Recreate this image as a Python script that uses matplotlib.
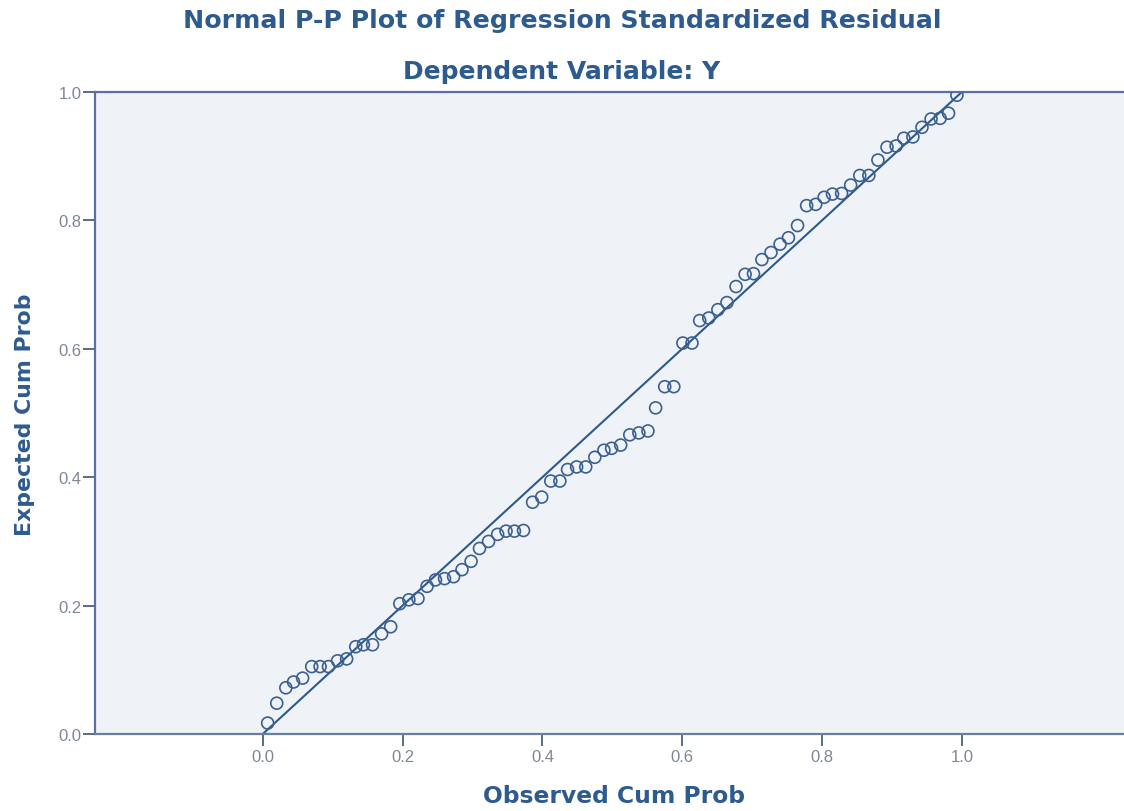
import matplotlib
matplotlib.use("Agg")
import matplotlib.pyplot as plt

observed_cum_prob = [
    0.007, 0.020, 0.033, 0.044, 0.057, 0.070, 0.082, 0.094, 0.107, 0.120,
    0.133, 0.144, 0.157, 0.170, 0.183, 0.196, 0.209, 0.222, 0.235, 0.247,
    0.260, 0.273, 0.285, 0.298, 0.310, 0.323, 0.336, 0.348, 0.360, 0.373,
    0.386, 0.399, 0.412, 0.425, 0.436, 0.449, 0.462, 0.475, 0.488, 0.499,
    0.512, 0.525, 0.538, 0.551, 0.562, 0.575, 0.588, 0.601, 0.614, 0.625,
    0.638, 0.651, 0.664, 0.677, 0.690, 0.702, 0.714, 0.727, 0.740, 0.752,
    0.765, 0.778, 0.791, 0.803, 0.815, 0.828, 0.841, 0.854, 0.867, 0.880,
    0.893, 0.906, 0.917, 0.930, 0.943, 0.956, 0.969, 0.981, 0.993,
]
expected_cum_prob = [
    0.017, 0.048, 0.072, 0.081, 0.087, 0.105, 0.105, 0.105, 0.114, 0.117,
    0.136, 0.139, 0.139, 0.156, 0.167, 0.203, 0.209, 0.211, 0.230, 0.240,
    0.242, 0.245, 0.256, 0.269, 0.289, 0.300, 0.311, 0.316, 0.316, 0.317,
    0.361, 0.369, 0.394, 0.394, 0.412, 0.416, 0.416, 0.431, 0.442, 0.445,
    0.450, 0.466, 0.469, 0.472, 0.508, 0.541, 0.541, 0.609, 0.609, 0.644,
    0.648, 0.661, 0.672, 0.697, 0.716, 0.717, 0.739, 0.750, 0.763, 0.773,
    0.792, 0.823, 0.825, 0.836, 0.841, 0.842, 0.855, 0.870, 0.870, 0.894,
    0.914, 0.916, 0.928, 0.930, 0.945, 0.958, 0.959, 0.967, 0.995,
]
reference_line = [0.0, 1.0]
tick_values = [0.0, 0.2, 0.4, 0.6, 0.8, 1.0]
tick_labels = ["0.0", "0.2", "0.4", "0.6", "0.8", "1.0"]

title_color = "#2e5b8e"
tick_color = "#7f8793"
spine_color = "#5b6fa8"
bg_color = "#eff3f8"

plt.rcParams["font.family"] = ["Liberation Sans", "DejaVu Sans"]
bold_family = ["DejaVu Sans"]

fig = plt.figure(figsize=(11.24, 8.12), dpi=100)
ax = fig.add_axes([95 / 1124, 77 / 812, 1 - 95 / 1124, (735 - 93) / 812])
ax.set_facecolor(bg_color)

ax.plot(reference_line, reference_line, color="#2d5a8c", lw=1.5, zorder=2)
ax.scatter(observed_cum_prob, expected_cum_prob, s=74, facecolors="none",
           edgecolors="#3b6090", linewidths=1.2, zorder=3)

ax.set_xlim(-0.240, 1.232)
ax.set_ylim(0.0, 1.0)
ax.set_xticks(tick_values)
ax.set_xticklabels(tick_labels)
ax.set_yticks(tick_values)
ax.set_yticklabels(tick_labels)
ax.tick_params(axis="both", direction="out", length=8.5, width=1.3,
               color="#4a5f80", labelcolor=tick_color, labelsize=12, pad=3)
ax.tick_params(axis="x", pad=2)
ax.tick_params(axis="y", pad=1)

for side in ["left", "top", "bottom"]:
    ax.spines[side].set_color(spine_color)
    ax.spines[side].set_linewidth(1.6)
ax.spines["right"].set_visible(False)
ax.spines["bottom"].set_color("#6a7f9e")

fig.text(0.5, 1 - 21 / 812, "Normal P-P Plot of Regression Standardized Residual",
         ha="center", va="center", fontsize=18.2, fontweight="bold",
         color=title_color, family=bold_family)
fig.text(0.5, 1 - 72 / 812, "Dependent Variable: Y",
         ha="center", va="center", fontsize=18, fontweight="bold",
         color=title_color, family=bold_family)
fig.text(614 / 1124, 1 - 797 / 812, "Observed Cum Prob",
         ha="center", va="center", fontsize=16.8, fontweight="bold",
         color=title_color, family=bold_family)
fig.text(25 / 1124, 1 - 415 / 812, "Expected Cum Prob", rotation=90,
         ha="center", va="center", fontsize=15.8, fontweight="bold",
         color=title_color, family=bold_family)

fig.savefig("out.png", dpi=100)
